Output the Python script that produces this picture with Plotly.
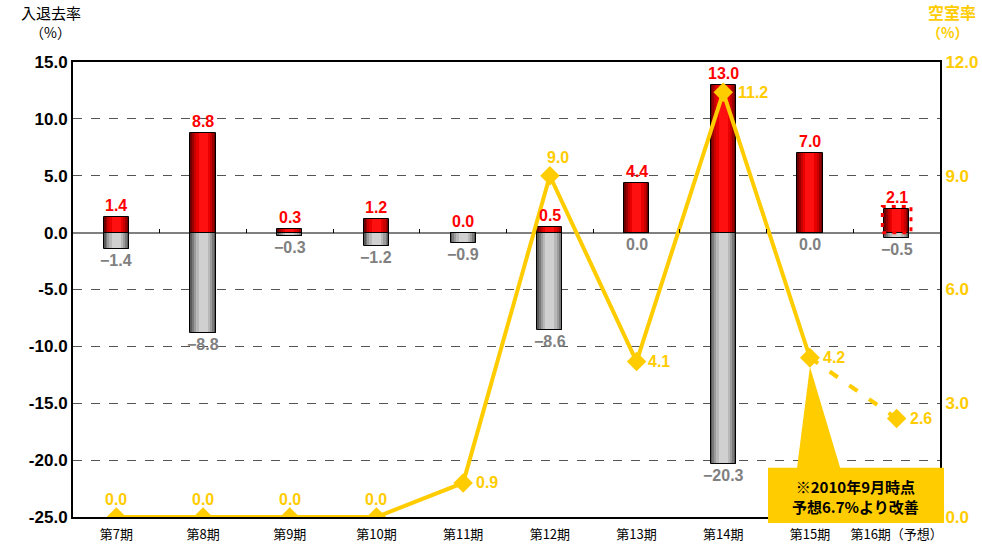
import plotly.graph_objects as go

# ---- data ----
periods = ["第7期", "第8期", "第9期", "第10期", "第11期", "第12期", "第13期", "第14期", "第15期", "第16期（予想）"]
move_in = [1.4, 8.8, 0.3, 1.2, 0.0, 0.5, 4.4, 13.0, 7.0, 2.1]          # 入居率
move_out = [-1.4, -8.8, -0.3, -1.2, -0.9, -8.6, 0.0, -20.3, 0.0, -0.5]  # 退去率
vacancy = [0.0, 0.0, 0.0, 0.0, 0.9, 9.0, 4.1, 11.2, 4.2, 2.6]          # 空室率
left_ticks = [15, 10, 5, 0, -5, -10, -15, -20, -25]
right_ticks = [0, 3, 6, 9, 12]

RED = "#FF0000"
GREY = "#808080"
GOLD = "#FFCC00"
BAR_W = 0.29
N = len(periods)
xs = list(range(N))

fig = go.Figure()

# shaded bars: stacked layers of narrowing width give a cylinder-like gradient
red_layers = [(1.00, "#6e0000"), (0.86, "#9a0000"), (0.72, "#c80000"), (0.56, "#e80000"), (0.36, "#ff1010")]
grey_layers = [(1.00, "#5a5a5a"), (0.86, "#7a7a7a"), (0.72, "#9c9c9c"), (0.56, "#b8b8b8"), (0.36, "#d0d0d0")]

for values, layers in ((move_in, red_layers), (move_out, grey_layers)):
    for frac, col in layers:
        fig.add_trace(go.Bar(x=xs, y=values, width=BAR_W * frac, marker=dict(color=col, line=dict(width=0)),
                             yaxis="y", showlegend=False, hoverinfo="skip"))
    # outline on top
    fig.add_trace(go.Bar(x=xs, y=values, width=BAR_W,
                         marker=dict(color="rgba(0,0,0,0)", line=dict(color="black", width=1)),
                         yaxis="y", showlegend=False, hoverinfo="skip"))

# vacancy line: actual (solid) and forecast (dashed)
fig.add_trace(go.Scatter(x=xs[:-1], y=vacancy[:-1], yaxis="y2", mode="lines+markers",
                         line=dict(color=GOLD, width=4),
                         marker=dict(symbol="diamond", size=15, color=GOLD),
                         showlegend=False, hoverinfo="skip"))
fig.add_trace(go.Scatter(x=xs[-2:], y=vacancy[-2:], yaxis="y2", mode="lines+markers",
                         line=dict(color=GOLD, width=4, dash="10px,14px"),
                         marker=dict(symbol="diamond", size=15, color=GOLD),
                         showlegend=False, hoverinfo="skip"))

# thin axis carrying boundary tick marks on the zero line
fig.add_trace(go.Scatter(x=xs, y=[0] * N, xaxis="x2", yaxis="y", mode="markers",
                         marker=dict(opacity=0), showlegend=False, hoverinfo="skip"))

anns = []
lab_font = dict(family="Liberation Sans, Arial", size=16, color=RED)
for i, v in enumerate(move_in):
    anns.append(dict(x=i, y=v, xref="x", yref="y", text=f"<b>{v:.1f}</b>", showarrow=False,
                     xanchor="center", yanchor="bottom", yshift=1, font=lab_font))
for i, v in enumerate(move_out):
    txt = f"−{abs(v):.1f}" if v < 0 else f"{v:.1f}"
    anns.append(dict(x=i, y=v, xref="x", yref="y", text=f"<b>{txt}</b>", showarrow=False,
                     xanchor="center", yanchor="top", yshift=-1,
                     font=dict(family="Liberation Sans, Arial", size=16, color=GREY)))

# vacancy labels: (dx px, dy px) offsets per point
vac_off = [(0, 18), (0, 18), (0, 18), (0, 18), (24, 0), (8, 18), (22, 0), (30, 0), (24, 0), (24, 0)]
for i, v in enumerate(vacancy):
    dx, dy = vac_off[i]
    anns.append(dict(x=i, y=v, xref="x", yref="y2", text=f"<b>{v:.1f}</b>", showarrow=False,
                     xanchor="center", yanchor="middle", xshift=dx, yshift=dy,
                     font=dict(family="Liberation Sans, Arial", size=16, color=GOLD)))

# axis titles
anns.append(dict(x=-0.0254, y=1.109, xref="paper", yref="paper", text="入退去率", showarrow=False,
                 xanchor="center", yanchor="middle",
                 font=dict(family="Noto Sans CJK JP", size=15, color="black")))
anns.append(dict(x=-0.0265, y=1.066, xref="paper", yref="paper", text="（%）", showarrow=False,
                 xanchor="center", yanchor="middle",
                 font=dict(family="Noto Sans CJK JP", size=14, color="black")))
anns.append(dict(x=1.0138, y=1.109, xref="paper", yref="paper", text="<b>空室率</b>", showarrow=False,
                 xanchor="center", yanchor="middle",
                 font=dict(family="Noto Sans CJK JP", size=16, color=GOLD)))
anns.append(dict(x=1.0092, y=1.066, xref="paper", yref="paper", text="<b>（%）</b>", showarrow=False,
                 xanchor="center", yanchor="middle",
                 font=dict(family="Noto Sans CJK JP", size=14, color=GOLD)))

# callout note
anns.append(dict(x=0.903, y=0.044, xref="paper", yref="paper",
                 text="<b>※2010年9月時点</b><br><b>予想6.7%より改善</b>", showarrow=False,
                 xanchor="center", yanchor="middle", align="center",
                 font=dict(family="Noto Sans CJK JP", size=15, color="black")))

# callout pointer tip computed from the 第15期 vacancy point
tip_x = (8 + 0.5) / N
tip_y = vacancy[8] / 12 - 0.02
shapes = [
    dict(type="rect", xref="paper", yref="paper", x0=0.8016, x1=1.0046, y0=-0.013, y1=0.108,
         fillcolor=GOLD, line=dict(width=0), layer="above"),
    dict(type="path", xref="paper", yref="paper",
         path=f"M 0.835 0.107 L {tip_x} {tip_y} L 0.885 0.107 Z",
         fillcolor=GOLD, line=dict(width=0), layer="above"),
    # dashed outline marking the forecast bar
    dict(type="rect", xref="x", yref="y", x0=N - 1 - BAR_W / 2 - 0.02, x1=N - 1 + BAR_W / 2 + 0.02,
         y0=0, y1=move_in[-1] + 0.2, line=dict(color=RED, width=3, dash="4px,6px"),
         fillcolor="rgba(0,0,0,0)", layer="above"),
]

fig.update_layout(
    width=982, height=545,
    margin=dict(l=73, r=42, t=62, b=28, autoexpand=False),
    paper_bgcolor="white", plot_bgcolor="white",
    barmode="overlay", bargap=0,
    annotations=anns, shapes=shapes,
    xaxis=dict(range=[-0.5, N - 0.5], tickmode="array", tickvals=xs, ticktext=periods,
               showline=True, linecolor="black", linewidth=2, mirror=True, showgrid=False,
               zeroline=False, ticks="", ticklabelstandoff=4, automargin=False,
               tickfont=dict(family="Noto Sans CJK JP", size=13, color="black")),
    xaxis2=dict(range=[-0.5, N - 0.5], overlaying="x", anchor="free", position=0.625, side="bottom",
                tickmode="array", tickvals=[i + 0.5 for i in range(N - 1)], ticks="inside", ticklen=4,
                tickcolor="black", tickwidth=1, showticklabels=False, showline=False, showgrid=False,
                zeroline=False, automargin=False),
    yaxis=dict(range=[-25, 15], tickmode="array", tickvals=left_ticks,
               ticktext=[f"{t:.1f}" for t in left_ticks],
               showline=True, linecolor="black", linewidth=2, ticks="", automargin=False,
               showgrid=True, gridcolor="#555555", griddash="dash", gridwidth=1,
               zeroline=True, zerolinecolor="#808080", zerolinewidth=2,
               tickfont=dict(family="Liberation Sans, Arial", size=17, color="black", weight="bold")),
    yaxis2=dict(range=[0, 12], overlaying="y", side="right", tickmode="array", tickvals=right_ticks,
                ticktext=[f"{t:.1f}" for t in right_ticks], automargin=False,
                showline=True, linecolor="black", linewidth=2, ticks="", showgrid=False, zeroline=False,
                tickfont=dict(family="Liberation Sans, Arial", size=17, color=GOLD, weight="bold")),
)

fig.write_html("out.html")
